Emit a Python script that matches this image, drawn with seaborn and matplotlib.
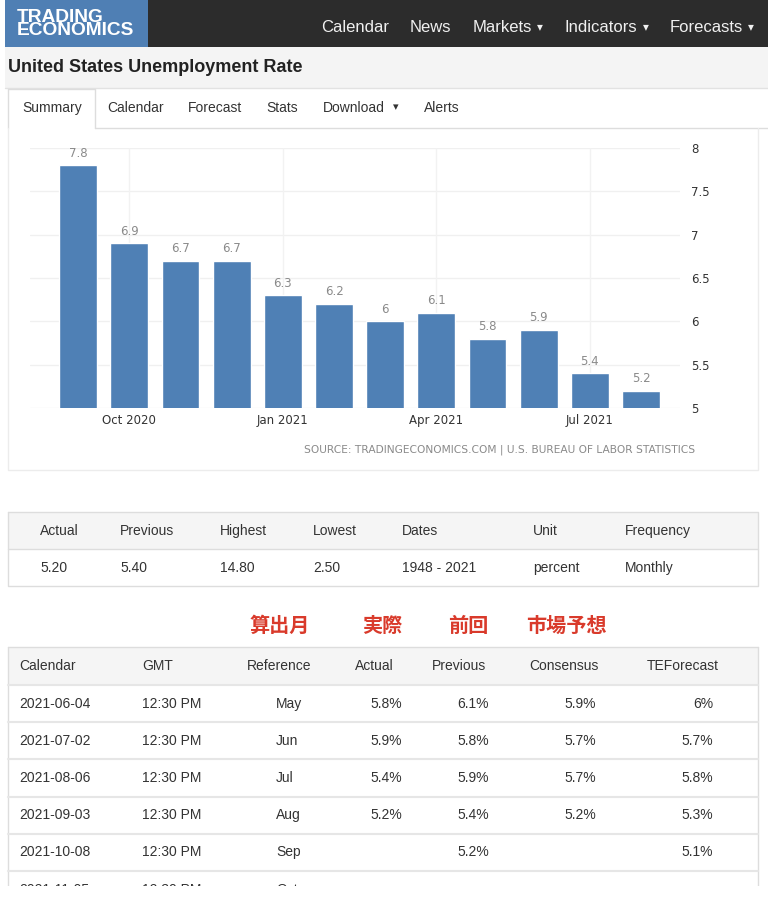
import numpy as np
import pandas as pd
import matplotlib
matplotlib.use("Agg")
import matplotlib.pyplot as plt
import seaborn as sns
from matplotlib.patches import Rectangle

# chart data
months = ["Sep 2020", "Oct 2020", "Nov 2020", "Dec 2020", "Jan 2021", "Feb 2021",
          "Mar 2021", "Apr 2021", "May 2021", "Jun 2021", "Jul 2021", "Aug 2021"]
rates = [7.8, 6.9, 6.7, 6.7, 6.3, 6.2, 6.0, 6.1, 5.8, 5.9, 5.4, 5.2]
tick_months = ["Oct 2020", "Jan 2021", "Apr 2021", "Jul 2021"]
y_ticks = [5, 5.5, 6, 6.5, 7, 7.5, 8]

nav_items = ["Calendar", "News", "Markets", "Indicators", "Forecasts"]
nav_caret = [False, False, True, True, True]
tab_items = ["Summary", "Calendar", "Forecast", "Stats", "Download", "Alerts"]

# summary table
stat_names = ["Actual", "Previous", "Highest", "Lowest", "Dates", "Unit", "Frequency"]
stat_values = ["5.20", "5.40", "14.80", "2.50", "1948 - 2021", "percent", "Monthly"]

# japanese notes above calendar table
jp_labels = ["算出月", "実際", "前回", "市場予想"]

# calendar table
cal_header = ["Calendar", "GMT", "Reference", "Actual", "Previous", "Consensus", "TEForecast"]
cal_dates = ["2021-06-04", "2021-07-02", "2021-08-06", "2021-09-03", "2021-10-08", "2021-11-05"]
cal_gmt = ["12:30 PM"] * 6
cal_ref = ["May", "Jun", "Jul", "Aug", "Sep", "Oct"]
cal_actual = ["5.8%", "5.9%", "5.4%", "5.2%", "", ""]
cal_prev = ["6.1%", "5.8%", "5.9%", "5.4%", "5.2%", ""]
cal_cons = ["5.9%", "5.7%", "5.7%", "5.2%", "", ""]
cal_tef = ["6%", "5.7%", "5.8%", "5.3%", "5.1%", ""]

W, H = 768, 898
sns.set_theme(style="white")
plt.rcParams["font.family"] = ["Liberation Sans", "DejaVu Sans"]
narrow = ["Liberation Sans Narrow", "DejaVu Sans"]

fig = plt.figure(figsize=(W / 100, H / 100), dpi=100)
fig.patch.set_facecolor("white")

# page layer in pixel coords
page = fig.add_axes([0, 0, 1, 1])
page.set_xlim(0, W)
page.set_ylim(H, 0)
page.axis("off")

txt = "#333333"
line = "#dddddd"


def box(x, y, w, h, fc="none", ec="none", lw=1, z=1):
    page.add_patch(Rectangle((x, y), w, h, facecolor=fc, edgecolor=ec, linewidth=lw, zorder=z))


# header
box(5, 0, W - 5, 47, fc="#2c2c2c")
box(5, 0, 143, 47, fc="#4f7fb4")
page.text(17, 24, "TRADING\nECONOMICS", color="white", fontsize=13.8, fontweight="bold",
          va="center", ha="left", linespacing=0.72)
nav_x = [321, 410, 473, 564, 670]
caret_x = [None, None, 540, 646, 751]
for name, x, c, cx in zip(nav_items, nav_x, nav_caret, caret_x):
    page.text(x, 27, name, color="#f0f0f0", fontsize=12, va="center", ha="left")
    if c:
        page.text(cx, 27, "▾", color="#f0f0f0", fontsize=8.5, va="center", ha="center",
                  family="DejaVu Sans")

# title band
box(5, 47, W - 5, 41, fc="#f4f4f4")
page.plot([5, W], [88, 88], color="#e2e2e2", lw=1)
page.text(8, 68, "United States Unemployment Rate", color="#222222", fontsize=13,
          fontweight="bold", va="center", ha="left")

# tabs
tab_x = [22, 107, 188, 266, 323, 424]
page.plot([8, 8, 95, 95], [128, 89, 89, 128], color=line, lw=1)
page.plot([95, W], [128, 128], color=line, lw=1)
for name, x in zip(tab_items, tab_x):
    page.text(x, 108, name, color=txt, fontsize=10, va="center", ha="left")
page.text(396, 107.5, "▾", color=txt, fontsize=8, va="center", ha="center", family="DejaVu Sans")

# chart panel border
page.plot([8, 8, 758, 758], [128, 470, 470, 128], color="#ececec", lw=1)
page.text(695, 450, "SOURCE: TRADINGECONOMICS.COM | U.S. BUREAU OF LABOR STATISTICS",
          color="#8a8a8a", fontsize=7.7, va="center", ha="right", family=narrow)

# bar chart
x0, x1, yt, yb = 30, 680, 148, 408
ax = fig.add_axes([x0 / W, 1 - yb / H, (x1 - x0) / W, (yb - yt) / H])
ax.patch.set_alpha(0)
df = pd.DataFrame({"month": months, "rate": rates})
sns.barplot(data=df, x="month", y="rate", color="#4f80b5", saturation=1, width=0.74, ax=ax)
ax.set_ylim(5, 8)
ax.set_xlim(-0.94, 11.76)
ax.set_yticks(y_ticks)
ax.set_yticklabels([f"{v:g}" for v in y_ticks])
ax.yaxis.tick_right()
pos = [months.index(m) for m in tick_months]
ax.set_xticks(pos)
ax.set_xticklabels(tick_months)
ax.tick_params(length=0, labelsize=8.5, colors="#333333", pad=4)
ax.tick_params(axis="y", pad=8)
for lab in ax.get_xticklabels() + ax.get_yticklabels():
    lab.set_family(narrow)
ax.set_xlabel("")
ax.set_ylabel("")
for v in y_ticks:
    ax.axhline(v, color="#f0f0f0", lw=1, zorder=0)
for p in pos:
    ax.axvline(p, color="#f2f2f2", lw=1, zorder=0)
for s in ax.spines.values():
    s.set_visible(False)
for i, v in enumerate(rates):
    ax.annotate(f"{v:g}", (i, v), xytext=(0, 4), textcoords="offset points",
                ha="center", va="bottom", fontsize=8.5, color="#8a8a8a",
                family=narrow, annotation_clip=False)

# summary table
box(8, 512, 750, 37, fc="#f5f5f5")
page.plot([8, 758, 758, 8, 8], [512, 512, 586, 586, 512], color=line, lw=1)
page.plot([8, 758], [549, 549], color=line, lw=1)
stat_x = [40, 120, 220, 313, 402, 533, 625]
for name, val, x in zip(stat_names, stat_values, stat_x):
    page.text(x, 531, name, color=txt, fontsize=10, va="center", ha="left")
    page.text(x, 568, val, color=txt, fontsize=10, va="center", ha="left")

# japanese notes
jp_x = [280, 382, 468, 566]
for lab, x in zip(jp_labels, jp_x):
    page.text(x, 625, lab, color="#d93a2b", fontsize=14.5, fontweight="bold",
              va="center", ha="center", family=["Noto Sans CJK JP", "DejaVu Sans"])

# calendar table
top, rh = 647, 37.2
box(8, top, 750, 38, fc="#f5f5f5")
page.plot([8, 8], [top, 888], color=line, lw=1)
page.plot([758, 758], [top, 888], color=line, lw=1)
page.plot([8, 758], [top, top], color=line, lw=1)
head_x = [19, 142, 247, 355, 432, 529, 647]
for name, x in zip(cal_header, head_x):
    page.text(x, top + 19, name, color=txt, fontsize=10, va="center", ha="left")
for i in range(len(cal_dates)):
    ly = top + 38 + i * rh
    page.plot([8, 758], [ly, ly], color="#e6e6e6", lw=1.5)
    cy = ly + rh / 2
    page.text(19, cy, cal_dates[i], color=txt, fontsize=10, va="center", ha="left")
    page.text(142, cy, cal_gmt[i], color=txt, fontsize=10, va="center", ha="left")
    page.text(276, cy, cal_ref[i], color=txt, fontsize=10, va="center", ha="left")
    page.text(402, cy, cal_actual[i], color=txt, fontsize=10, va="center", ha="right")
    page.text(489, cy, cal_prev[i], color=txt, fontsize=10, va="center", ha="right")
    page.text(596, cy, cal_cons[i], color=txt, fontsize=10, va="center", ha="right")
    page.text(713, cy, cal_tef[i], color=txt, fontsize=10, va="center", ha="right")

# page cut at the bottom
box(0, 886, W, 20, fc="white", z=5)

fig.savefig("out.png", dpi=100, facecolor="white")
